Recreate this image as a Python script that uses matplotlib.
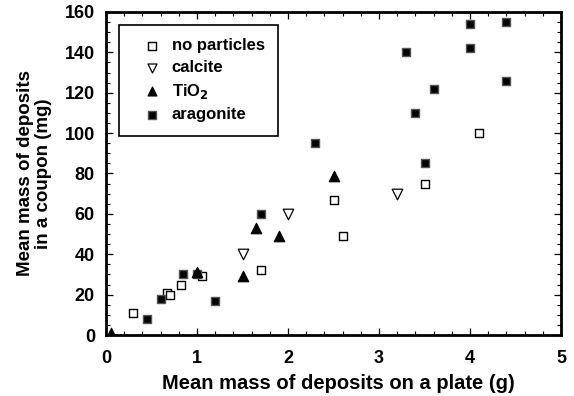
import matplotlib.pyplot as plt
from matplotlib.ticker import MultipleLocator

plt.rcParams['font.family'] = ['Liberation Sans', 'DejaVu Sans']
plt.rcParams['font.weight'] = 'bold'

# mass on plate (g) vs mass in coupon (mg)
none_x = [0.3, 0.67, 0.7, 0.82, 1.05, 1.7, 2.5, 2.6, 3.5, 4.1]
none_y = [11, 21, 20, 25, 29, 32, 67, 49, 75, 100]
calcite_x = [1.5, 2.0, 3.2]
calcite_y = [40, 60, 70]
tio2_x = [0.05, 1.0, 1.5, 1.65, 1.9, 2.5]
tio2_y = [1, 31, 29, 53, 49, 79]
arag_x = [0.45, 0.6, 0.85, 1.0, 1.2, 1.7, 2.3, 3.3, 3.4, 3.5, 3.6, 4.0, 4.0, 4.4, 4.4]
arag_y = [8, 18, 30, 30, 17, 60, 95, 140, 110, 85, 122, 154, 142, 155, 126]

fig = plt.figure(figsize=(5.74, 3.96), dpi=100)
ax = fig.add_axes([106 / 574, 61 / 396, 455 / 574, 323 / 396])

ax.scatter(none_x, none_y, marker='s', s=40, facecolor='white', edgecolor='black',
           linewidth=1.0, label='no particles', zorder=3)
ax.scatter(calcite_x, calcite_y, marker='v', s=58, facecolor='white', edgecolor='black',
           linewidth=0.9, label='calcite', zorder=3)
ax.scatter(arag_x, arag_y, marker='s', s=40, facecolor='black', edgecolor='#555555',
           linewidth=1.0, label='aragonite', zorder=3)
ax.scatter(tio2_x, tio2_y, marker='^', s=58, facecolor='black', edgecolor='black',
           linewidth=0.8, label='TiO$_\\mathbf{2}$', zorder=4)

ax.set_xlim(0, 5)
ax.set_ylim(0, 160)
ax.xaxis.set_major_locator(MultipleLocator(1))
ax.xaxis.set_minor_locator(MultipleLocator(0.2))
ax.yaxis.set_major_locator(MultipleLocator(20))
ax.yaxis.set_minor_locator(MultipleLocator(5))
ax.tick_params(which='both', direction='in', top=True, right=True, labelsize=13)
ax.tick_params(which='major', length=5, width=0.9)
ax.tick_params(which='minor', length=2.7, width=0.8)
ax.tick_params(axis='x', pad=11)
ax.tick_params(axis='y', pad=8)
for sp in ax.spines.values():
    sp.set_linewidth(2)

ax.set_xlabel('Mean mass of deposits on a plate (g)', fontsize=14.5, fontweight='bold', labelpad=6)
ax.xaxis.set_label_coords(0.51, -0.12)
ax.set_ylabel('Mean mass of deposits\nin a coupon (mg)', fontsize=13.5, fontweight='bold',
              labelpad=9, linespacing=1.1)

# legend order: no particles, calcite, TiO2, aragonite
h, l = ax.get_legend_handles_labels()
order = [0, 1, 3, 2]
leg = ax.legend([h[i] for i in order], [l[i] for i in order],
                loc='upper left', bbox_to_anchor=(0.0286, 0.96), fancybox=False,
                edgecolor='black', framealpha=1, fontsize=12, handletextpad=0.05,
                labelspacing=0.4, borderpad=0.8, handlelength=2.3, markerscale=0.85,
                borderaxespad=0)
leg.get_frame().set_linewidth(1.2)

fig.savefig('out.png', dpi=100)
